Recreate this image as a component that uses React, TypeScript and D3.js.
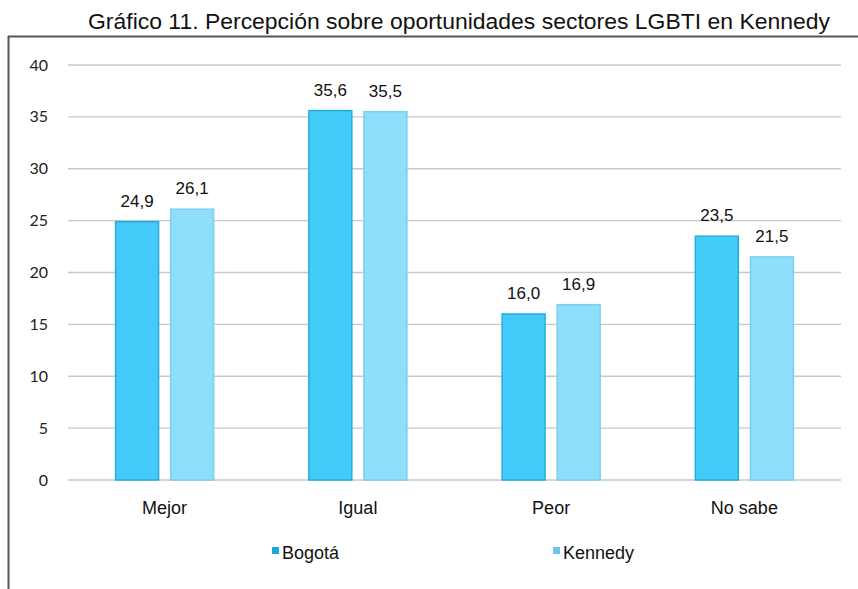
import React from "react";
import * as d3 from "d3";

const categories = ["Mejor", "Igual", "Peor", "No sabe"];
const seriesNames = ["Bogotá", "Kennedy"];
const bogota = [24.9, 35.6, 16.0, 23.5];
const kennedy = [26.1, 35.5, 16.9, 21.5];
const yTicks = [0, 5, 10, 15, 20, 25, 30, 35, 40];

const fills = ["#45CBF9", "#8EDEFC"];
const strokes = ["#22AEDD", "#7ACFEF"];
const legendFills = ["#1FA5D6", "#6FC6EA"];

const W = 858;
const H = 589;
const left = 68;
const right = 841;
const top = 65;
const bottom = 480;
const groupW = 98;

const App = () => {
  const x = d3.scaleBand<string>().domain(categories).range([left, right]);
  const inner = d3
    .scaleBand<string>()
    .domain(seriesNames)
    .range([0, groupW])
    .paddingInner(0.22);
  const y = d3.scaleLinear().domain([0, 40]).range([bottom, top]);
  const series = [bogota, kennedy];
  const fmt = (v: number) => v.toFixed(1).replace(".", ",");
  const barOffset = (x.bandwidth() - groupW) / 2;

  return (
    <svg
      width={W}
      height={H}
      style={{ position: "absolute", left: 0, top: 0, background: "#fff" }}
      fontFamily="'Liberation Sans', Arial, sans-serif"
    >
      <text
        x={88}
        y={29}
        fontSize={22}
        fill="#111"
        textLength={742}
        lengthAdjust="spacingAndGlyphs"
      >
        Gráfico 11. Percepción sobre oportunidades sectores LGBTI en Kennedy
      </text>
      <line x1={8} x2={W} y1={36.5} y2={36.5} stroke="#555" strokeWidth={2} />
      <line x1={8.5} x2={8.5} y1={36} y2={H} stroke="#555" strokeWidth={2} />

      {yTicks.map((t) => (
        <g key={t}>
          <line
            x1={left}
            x2={right}
            y1={y(t)}
            y2={y(t)}
            stroke="#c8c8c8"
            strokeWidth={1.3}
          />
          <text
            x={48}
            y={y(t) + 5.5}
            textAnchor="end"
            fontSize={16}
            fontFamily="Lato, 'Open Sans', sans-serif"
            fill="#222"
          >
            {t}
          </text>
        </g>
      ))}

      {categories.map((c, i) => (
        <g key={c}>
          {series.map((s, j) => {
            const bx = (x(c) ?? 0) + barOffset + (inner(seriesNames[j]) ?? 0);
            const bw = inner.bandwidth();
            return (
              <g key={j}>
                <rect
                  x={bx}
                  y={y(s[i])}
                  width={bw}
                  height={y(0) - y(s[i])}
                  fill={fills[j]}
                  stroke={strokes[j]}
                  strokeWidth={1.5}
                />
                <text
                  x={bx + bw / 2}
                  y={y(s[i]) - 15}
                  textAnchor="middle"
                  fontSize={17}
                  fill="#111"
                >
                  {fmt(s[i])}
                </text>
              </g>
            );
          })}
          <text
            x={(x(c) ?? 0) + x.bandwidth() / 2}
            y={514}
            textAnchor="middle"
            fontSize={18}
            fill="#111"
          >
            {c}
          </text>
        </g>
      ))}

      {seriesNames.map((n, j) => {
        const lx = j === 0 ? 272 : 553;
        return (
          <g key={n}>
            <rect x={lx} y={547} width={7} height={7} fill={legendFills[j]} />
            <text x={lx + 10} y={559} fontSize={18} fill="#111">
              {n}
            </text>
          </g>
        );
      })}
    </svg>
  );
};

export default App;
